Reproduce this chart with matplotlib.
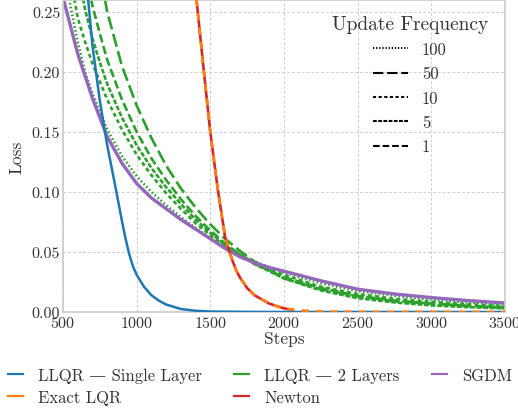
import matplotlib
matplotlib.use("Agg")
import matplotlib.pyplot as plt
from matplotlib.lines import Line2D

# ---- data ----
sgdm_steps = [500, 600, 700, 800, 900, 1000, 1100, 1200, 1300, 1400, 1500, 1600,
              1700, 1800, 1900, 2000, 2250, 2500, 2750, 3000, 3250, 3500]
sgdm_loss = [0.262, 0.215, 0.178, 0.146, 0.124, 0.107, 0.095, 0.086, 0.077, 0.069, 0.061, 0.053,
             0.046, 0.041, 0.037, 0.034, 0.026, 0.019, 0.015, 0.012, 0.0095, 0.0075]

single_steps = [600, 650, 700, 750, 800, 850, 900, 925, 950, 975, 1000, 1050, 1100, 1150,
                1200, 1300, 1400, 1500, 1750, 2000, 3500]
single_loss = [0.345, 0.287, 0.222, 0.176, 0.139, 0.108, 0.076, 0.061, 0.048, 0.038, 0.031,
               0.021, 0.014, 0.0095, 0.0062, 0.0025, 0.001, 0.0004, 0.0001, 0.0, 0.0]

lqr_steps = [1350, 1400, 1450, 1500, 1550, 1600, 1625, 1650, 1675, 1700, 1750, 1800, 1900,
             2000, 2100, 2250, 2500, 3000, 3500]
lqr_loss = [0.33, 0.268, 0.208, 0.150, 0.103, 0.063, 0.052, 0.043, 0.035, 0.029, 0.020, 0.014,
            0.007, 0.003, 0.0013, 0.0004, 0.0001, 0.0, 0.0]

newton_steps = [1350, 1400, 1450, 1500, 1550, 1600, 1625, 1650, 1675, 1700, 1750, 1800, 1900,
                2000, 2050]
newton_loss = [0.33, 0.268, 0.208, 0.150, 0.103, 0.063, 0.052, 0.043, 0.035, 0.029, 0.020,
               0.014, 0.007, 0.003, 0.002]

two_layer_steps = [500, 550, 600, 650, 700, 750, 800, 900, 1000, 1100, 1200, 1300, 1400, 1500,
                   1600, 1700, 1800, 2000, 2250, 2500, 2750, 3000, 3250, 3500]
freqs = ["100", "50", "10", "5", "1"]
two_layer_loss = {
    "100": [0.30, 0.255, 0.225, 0.200, 0.182, 0.167, 0.152, 0.130, 0.113, 0.100, 0.089, 0.079,
            0.070, 0.061, 0.054, 0.047, 0.042, 0.033, 0.024, 0.0175, 0.0135, 0.0105, 0.008, 0.0065],
    "50": [0.45, 0.41, 0.38, 0.35, 0.32, 0.285, 0.250, 0.205, 0.172, 0.145, 0.122, 0.103,
           0.087, 0.073, 0.061, 0.051, 0.042, 0.028, 0.019, 0.013, 0.009, 0.007, 0.005, 0.0035],
    "10": [0.33, 0.28, 0.245, 0.225, 0.207, 0.192, 0.177, 0.152, 0.131, 0.114, 0.099, 0.086,
           0.074, 0.064, 0.055, 0.048, 0.041, 0.031, 0.021, 0.015, 0.011, 0.0085, 0.0065, 0.005],
    "5": [0.36, 0.32, 0.285, 0.252, 0.228, 0.208, 0.190, 0.162, 0.139, 0.120, 0.104, 0.090,
          0.077, 0.066, 0.056, 0.048, 0.040, 0.028, 0.018, 0.0115, 0.008, 0.0055, 0.004, 0.003],
    "1": [0.40, 0.36, 0.33, 0.285, 0.255, 0.232, 0.210, 0.177, 0.150, 0.128, 0.110, 0.094,
          0.080, 0.068, 0.057, 0.048, 0.040, 0.029, 0.020, 0.0135, 0.0095, 0.007, 0.005, 0.004],
}
freq_styles = {"100": (0, (0.6, 0.9)), "50": (0, (5, 1.8)), "10": (0, (1.5, 1.2)),
               "5": (0, (1.8, 0.7)), "1": (0, (3.2, 1.4))}

plt.rcParams["font.family"] = ["cmr10", "DejaVu Serif"]
plt.rcParams["mathtext.fontset"] = "cm"
plt.rcParams["axes.formatter.use_mathtext"] = True
plt.rcParams["axes.unicode_minus"] = False

txt = "#333333"
fig = plt.figure(figsize=(5.18, 4.14), dpi=100)
ax = fig.add_axes([0.1216, 0.244, 0.853, 0.754])

ax.plot(single_steps, single_loss, color="#1f77b4", lw=1.8, zorder=3)
for f in freqs:
    ax.plot(two_layer_steps, two_layer_loss[f], color="#2ca02c", lw=1.9,
            linestyle=freq_styles[f], zorder=2)
ax.plot(sgdm_steps, sgdm_loss, color="#9467bd", lw=2.4, zorder=2.5)
ax.plot(newton_steps, newton_loss, color="#d62728", lw=1.9, zorder=4)
ax.plot(lqr_steps, lqr_loss, color="#ff7f0e", lw=1.9, dashes=(2.8, 2.6), zorder=5)

ax.set_xlim(500, 3500)
ax.set_ylim(0, 0.26)
ax.set_xticks([500, 1000, 1500, 2000, 2500, 3000, 3500])
ax.set_yticks([0.0, 0.05, 0.10, 0.15, 0.20, 0.25])
ax.set_yticklabels(["0.00", "0.05", "0.10", "0.15", "0.20", "0.25"])
ax.grid(True, color="#d0d0d0", linestyle=(0, (3, 2)), lw=0.7)
ax.tick_params(length=0, labelsize=11.5, labelcolor=txt, pad=2)
for s in ax.spines.values():
    s.set_color("#cccccc")
    s.set_linewidth(1.2)
ax.set_xlabel("Steps", fontsize=12.5, color=txt, labelpad=1)
ax.set_ylabel("Loss", fontsize=12.5, color=txt, labelpad=5)

freq_handles = [Line2D([], [], color="black", lw=1.5, linestyle=freq_styles[f]) for f in freqs]
leg1 = ax.legend(freq_handles, freqs, title="Update Frequency", loc="upper center",
                 bbox_to_anchor=(0.785, 1.0), frameon=False, fontsize=12,
                 title_fontsize=14, labelspacing=0.54, handlelength=2.1)
for t in leg1.get_texts():
    t.set_color(txt)
leg1.get_title().set_color(txt)

main_labels = ["LLQR — Single Layer", "Exact LQR", "LLQR — 2 Layers", "Newton", "SGDM"]
main_colors = ["#1f77b4", "#ff7f0e", "#2ca02c", "#d62728", "#9467bd"]
main_handles = [Line2D([], [], color=c, lw=1.6) for c in main_colors]
leg2 = fig.legend(main_handles, main_labels, loc="lower left", bbox_to_anchor=(-0.0135, -0.017),
                  ncol=3, frameon=False, fontsize=12, handlelength=0.9, handletextpad=0.9,
                  columnspacing=1.95, labelspacing=0.42)
for t in leg2.get_texts():
    t.set_color(txt)

fig.savefig("out.png", dpi=100)
